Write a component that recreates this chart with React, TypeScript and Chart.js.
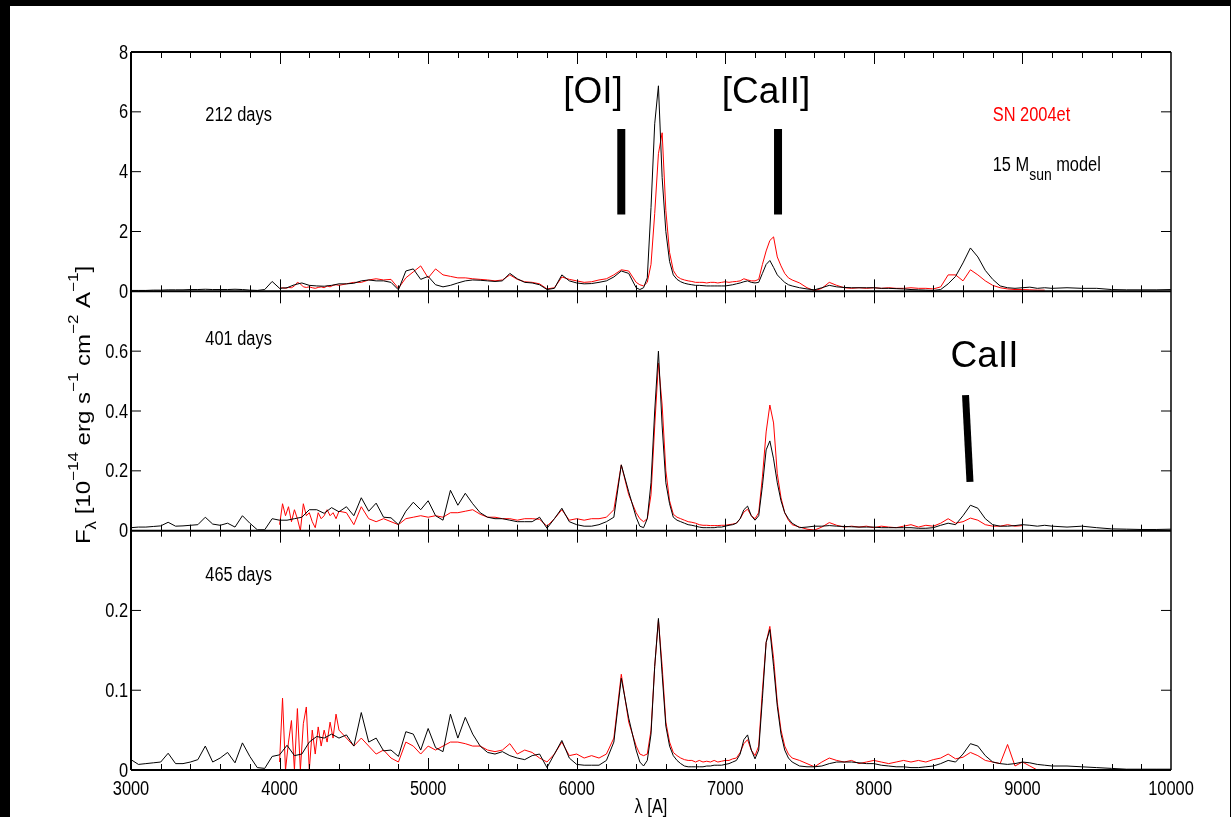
import React, { useEffect, useRef } from 'react';
import { Chart, registerables } from 'chart.js';
Chart.register(...registerables);

// ---------- wavelength grids (Angstrom) ----------
const WAVE_MODEL = [
  3000, 3050, 3100, 3150, 3200, 3250, 3300, 3350, 3400, 3450,
  3500, 3550, 3600, 3650, 3700, 3750, 3800, 3850, 3900, 3950,
  4000, 4050, 4100, 4150, 4200, 4250, 4300, 4350, 4400, 4450,
  4500, 4550, 4600, 4650, 4700, 4750, 4800, 4850, 4900, 4950,
  5000, 5050, 5100, 5150, 5200, 5250, 5300, 5350, 5400, 5450,
  5500, 5550, 5600, 5650, 5700, 5750, 5800, 5850, 5900, 5950,
  6000, 6050, 6100, 6150, 6200, 6250, 6300, 6350, 6400,
  6425, 6450, 6475, 6500, 6525, 6550, 6575, 6600, 6625, 6650,
  6675, 6700, 6725, 6750, 6775, 6800, 6825, 6850, 6875, 6900,
  6925, 6950, 6975, 7000, 7025, 7050, 7075, 7100, 7125, 7150,
  7175, 7200, 7225, 7250, 7275, 7300, 7325, 7350, 7375, 7400,
  7425, 7450,
  7500, 7550, 7600, 7650, 7700, 7750, 7800, 7850, 7900, 7950,
  8000, 8050, 8100, 8150, 8200, 8250, 8300, 8350, 8400, 8450,
  8500, 8550, 8600, 8650, 8700, 8750, 8800, 8850, 8900, 8950,
  9000, 9050, 9100, 9150, 9200,
  9300, 9400, 9500, 9600, 9700, 9800, 9900, 10000,
];

const WAVE_OBS = [
  4000, 4020, 4040, 4060, 4080, 4100, 4120, 4140, 4160, 4180,
  4200, 4220, 4240, 4260, 4280, 4300, 4320, 4340, 4360, 4380, 4400,
  4450, 4500, 4550, 4600, 4650, 4700, 4750, 4800, 4850, 4900,
  4950, 5000, 5050, 5100, 5150, 5200, 5250, 5300, 5350, 5400,
  5450, 5500, 5550, 5600, 5650, 5700, 5750, 5800, 5850, 5900,
  5950, 6000, 6050, 6100, 6150, 6200, 6250, 6300, 6350, 6400,
  6425, 6450, 6475, 6500, 6525, 6550, 6575, 6600, 6625, 6650,
  6675, 6700, 6725, 6750, 6775, 6800, 6825, 6850, 6875, 6900,
  6925, 6950, 6975, 7000, 7025, 7050, 7075, 7100, 7125, 7150,
  7175, 7200, 7225, 7250, 7275, 7300, 7325, 7350, 7375, 7400,
  7425, 7450,
  7500, 7550, 7600, 7650, 7700, 7750, 7800, 7850, 7900, 7950,
  8000, 8050, 8100, 8150, 8200, 8250, 8300, 8350, 8400, 8450,
  8500, 8550, 8600, 8650, 8700, 8750, 8800, 8850, 8900, 8950,
  9000, 9050, 9100, 9150, 9200,
];

// ---------- 212 days ----------
const MODEL_212 = [
  0.03, 0.03, 0.03, 0.04, 0.04, 0.05, 0.05, 0.05, 0.06, 0.06,
  0.07, 0.06, 0.06, 0.06, 0.07, 0.06, 0.04, 0.03, 0.06, 0.33,
  0.1, 0.12, 0.22, 0.28, 0.2, 0.18, 0.17, 0.2, 0.25, 0.25,
  0.27, 0.35, 0.38, 0.35, 0.35, 0.3, 0.05, 0.68, 0.75, 0.4,
  0.5, 0.22, 0.15, 0.2, 0.28, 0.35, 0.38, 0.37, 0.35, 0.33,
  0.35, 0.6, 0.42, 0.3, 0.28, 0.22, 0.06, 0.1, 0.55, 0.35,
  0.28, 0.25, 0.26, 0.3, 0.35, 0.48, 0.68, 0.6, 0.12,
  0.06, 0.12, 0.45, 2.8, 5.6, 6.87, 3.8, 2.0, 1.0, 0.55,
  0.4, 0.32, 0.27, 0.24, 0.22, 0.2, 0.2, 0.19, 0.18, 0.18,
  0.18, 0.18, 0.18, 0.18, 0.2, 0.22, 0.25, 0.28, 0.32, 0.35,
  0.3, 0.28, 0.3, 0.6, 0.9, 1.03, 0.8, 0.55, 0.42, 0.3,
  0.22, 0.18,
  0.12, 0.08, 0.05, 0.12, 0.2, 0.15, 0.13, 0.12, 0.12, 0.12,
  0.12, 0.1, 0.1, 0.09, 0.08, 0.06, 0.05, 0.04, 0.03, 0.06,
  0.25, 0.5, 0.95, 1.45, 1.15, 0.7, 0.4, 0.18, 0.12, 0.1,
  0.12, 0.14, 0.1, 0.12, 0.1,
  0.12, 0.1, 0.1, 0.06, 0.05, 0.05, 0.05, 0.06,
];

const OBS_212 = [
  0.1, 0.12, 0.1, 0.13, 0.12, 0.18, 0.3, 0.25, 0.15, 0.13,
  0.15, 0.12, 0.1, 0.13, 0.15, 0.12, 0.18, 0.15, 0.2, 0.22, 0.2,
  0.25, 0.3, 0.3, 0.38, 0.42, 0.38, 0.4, 0.1, 0.45, 0.65,
  0.85, 0.45, 0.75, 0.55, 0.5, 0.45, 0.45, 0.42, 0.4, 0.38,
  0.35, 0.38, 0.55, 0.4, 0.32, 0.3, 0.25, 0.08, 0.12, 0.48,
  0.4, 0.35, 0.3, 0.32, 0.38, 0.42, 0.55, 0.72, 0.68, 0.3,
  0.22, 0.18, 0.3, 0.9, 2.6, 4.6, 5.3, 2.7, 1.3, 0.7,
  0.5, 0.42, 0.38, 0.35, 0.33, 0.3, 0.3, 0.3, 0.28, 0.3,
  0.3, 0.28, 0.3, 0.32, 0.3, 0.32, 0.33, 0.35, 0.42, 0.38,
  0.35, 0.35, 0.4, 0.9, 1.35, 1.7, 1.82, 1.15, 0.85, 0.6,
  0.45, 0.38,
  0.28, 0.12, 0.02, 0.1, 0.3, 0.2, 0.12, 0.1, 0.12, 0.1,
  0.12, 0.1, 0.12, 0.1, 0.1, 0.12, 0.1, 0.1, 0.08, 0.15,
  0.55, 0.55, 0.35, 0.72, 0.55, 0.35, 0.2, 0.12, 0.08, 0.06,
  0.06, 0.05, 0.04, 0.04, null,
];

// ---------- 401 days ----------
const MODEL_401 = [
  0.01, 0.012, 0.012, 0.014, 0.016, 0.028, 0.015, 0.016, 0.018, 0.02,
  0.045, 0.022, 0.018, 0.025, 0.012, 0.05, 0.025, 0.003, 0.003, 0.04,
  0.035, 0.035, 0.04, 0.045, 0.07, 0.07, 0.058, 0.077, 0.063, 0.08,
  0.05, 0.11, 0.065, 0.092, 0.045, 0.043, 0.02, 0.065, 0.095, 0.07,
  0.1, 0.05, 0.035, 0.135, 0.085, 0.125, 0.09, 0.06, 0.045, 0.04,
  0.04, 0.035, 0.03, 0.03, 0.03, 0.045, 0.008, 0.04, 0.075, 0.03,
  0.02, 0.015, 0.015, 0.02, 0.03, 0.045, 0.22, 0.13, 0.045,
  0.015, 0.01, 0.04, 0.16, 0.4, 0.6, 0.35, 0.16, 0.09, 0.045,
  0.035, 0.03, 0.025, 0.02, 0.018, 0.015, 0.012, 0.01, 0.01, 0.01,
  0.01, 0.012, 0.012, 0.015, 0.018, 0.02, 0.025, 0.04, 0.07, 0.082,
  0.05, 0.035, 0.05, 0.15, 0.27, 0.3, 0.24, 0.16, 0.1, 0.06,
  0.04, 0.025,
  0.01, 0.012, 0.015, 0.015, 0.017, 0.015, 0.014, 0.013, 0.012, 0.012,
  0.012, 0.01, 0.01, 0.01, 0.01, 0.01, 0.008, 0.008, 0.01, 0.018,
  0.025, 0.02, 0.05, 0.085, 0.075, 0.04, 0.02, 0.015, 0.015, 0.017,
  0.02, 0.018, 0.015, 0.018, 0.015,
  0.012, 0.015, 0.01, 0.006, 0.005, 0.004, 0.004, 0.005,
];

const OBS_401 = [
  0.02, 0.09, 0.05, 0.08, 0.03, 0.07, 0.04, 0.0, 0.09, 0.05,
  0.06, 0.03, 0.01, 0.06, 0.04, 0.05, 0.07, 0.05, 0.06, 0.04, 0.065,
  0.06, 0.02, 0.08, 0.04, 0.03, 0.04, 0.03, 0.02, 0.04, 0.045,
  0.05, 0.045, 0.05, 0.045, 0.06, 0.06, 0.065, 0.07, 0.055, 0.045,
  0.045, 0.04, 0.04, 0.035, 0.04, 0.04, 0.038, 0.015, 0.04, 0.07,
  0.035, 0.04, 0.035, 0.04, 0.04, 0.045, 0.07, 0.22, 0.12, 0.06,
  0.04, 0.03, 0.04, 0.12, 0.35, 0.56, 0.42, 0.2, 0.1, 0.055,
  0.045, 0.04, 0.035, 0.03, 0.028, 0.025, 0.02, 0.018, 0.018, 0.017,
  0.017, 0.017, 0.018, 0.018, 0.02, 0.022, 0.025, 0.04, 0.062, 0.072,
  0.05, 0.04, 0.06, 0.18, 0.33, 0.42, 0.36, 0.19, 0.11, 0.06,
  0.035, 0.02,
  0.012, 0.005, 0.002, 0.012, 0.027, 0.018, 0.012, 0.015, 0.012, 0.015,
  0.01, 0.015, 0.012, 0.01, 0.015, 0.02, 0.012, 0.018, 0.015, 0.025,
  0.04, 0.025, 0.03, 0.042, 0.035, 0.02, 0.015, 0.015, 0.02, 0.015,
  0.017, null, null, null, null,
];

// ---------- 465 days ----------
const MODEL_465 = [
  0.013, 0.007, 0.008, 0.009, 0.01, 0.021, 0.008, 0.008, 0.01, 0.013,
  0.03, 0.01, 0.015, 0.022, 0.009, 0.034, 0.017, 0.003, 0.002, 0.017,
  0.019, 0.031, 0.018, 0.02, 0.035, 0.042, 0.04, 0.045, 0.04, 0.044,
  0.03, 0.072, 0.035, 0.04, 0.024, 0.025, 0.017, 0.048, 0.045, 0.025,
  0.052, 0.028, 0.023, 0.07, 0.04, 0.066, 0.045, 0.03, 0.022, 0.02,
  0.023, 0.018, 0.015, 0.013, 0.018, 0.02, 0.003, 0.02, 0.037, 0.015,
  0.007, 0.006, 0.006, 0.006, 0.012, 0.035, 0.115, 0.065, 0.025,
  0.01, 0.005, 0.012, 0.045, 0.13, 0.19, 0.12, 0.055, 0.03, 0.018,
  0.012, 0.008, 0.005, 0.004, 0.004, 0.004, 0.004, 0.004, 0.005, 0.005,
  0.006, 0.006, 0.006, 0.007, 0.008, 0.01, 0.012, 0.02, 0.038, 0.044,
  0.025, 0.014, 0.025, 0.09, 0.16, 0.176, 0.13, 0.08, 0.045, 0.025,
  0.015, 0.01,
  0.005, 0.004, 0.004, 0.005, 0.008, 0.01, 0.01, 0.01, 0.009, 0.008,
  0.008, 0.006, 0.005, 0.004, 0.004, 0.003, 0.003, 0.004, 0.005, 0.008,
  0.012, 0.01, 0.02, 0.033, 0.03, 0.018, 0.01, 0.008, 0.007, 0.008,
  0.01, 0.009, 0.007, 0.006, 0.005,
  0.005, 0.004, 0.003, 0.002, 0.001, 0.001, 0.001, 0.001,
];

const OBS_465 = [
  0.01, 0.09, 0.0, 0.035, 0.062, 0.0, 0.077, 0.0, 0.058, 0.079,
  0.0, 0.05, 0.02, 0.054, 0.03, 0.05, 0.035, 0.06, 0.04, 0.07, 0.05,
  0.04, 0.03, 0.04, 0.03, 0.02, 0.025, 0.015, 0.01, 0.035, 0.03,
  0.02, 0.03, 0.025, 0.03, 0.035, 0.035, 0.033, 0.03, 0.03, 0.025,
  0.023, 0.025, 0.033, 0.02, 0.025, 0.022, 0.015, 0.01, 0.02, 0.035,
  0.018, 0.02, 0.015, 0.018, 0.015, 0.02, 0.04, 0.12, 0.06, 0.03,
  0.02, 0.018, 0.02, 0.05, 0.13, 0.188, 0.13, 0.06, 0.035, 0.022,
  0.018, 0.015, 0.013, 0.012, 0.012, 0.01, 0.012, 0.01, 0.011, 0.01,
  0.012, 0.01, 0.011, 0.012, 0.012, 0.014, 0.015, 0.022, 0.033, 0.038,
  0.025, 0.018, 0.03, 0.1, 0.16, 0.18, 0.14, 0.085, 0.05, 0.03,
  0.02, 0.015,
  0.012, 0.008, 0.004, 0.01, 0.015, 0.012, 0.01, 0.012, 0.008, 0.01,
  0.012, 0.01, 0.008, 0.01, 0.012, 0.01, 0.012, 0.01, 0.013, 0.015,
  0.02, 0.014, 0.016, 0.022, 0.018, 0.012, 0.01, 0.008, 0.032, 0.005,
  0.01, 0.005, 0.0, null, null,
];

// ---------- axes ----------
const X_MIN = 3000;
const X_MAX = 10000;
const X_MAJOR_STEP = 1000;
const X_MINOR_STEP = 200;
const X_TICKS = [3000, 4000, 5000, 6000, 7000, 8000, 9000, 10000];
const Y1_RANGE = [0, 8];
const Y2_RANGE = [0, 0.8];
const Y3_RANGE = [0, 0.3];
const Y1_TICKS = [0, 2, 4, 6, 8];
const Y2_TICKS = [0, 0.2, 0.4, 0.6];
const Y3_TICKS = [0, 0.1, 0.2];

const PANEL_LABELS = ['212 days', '401 days', '465 days'];
const PANEL_LABEL_POS = [
  [3500, 5.7],
  [3500, 0.62],
  [3500, 0.2375],
];

const REGULAR = "'Liberation Sans', Arial, Helvetica, sans-serif";
const SQUEEZE = 0.82; // the original figure's lettering is horizontally condensed

const toXY = (xs: number[], ys: (number | null)[]) => xs.map((x, i) => ({ x, y: ys[i] }));
const fmt = (v: number) => String(Number(v.toFixed(2)));

type Part = { t: string; s: number; dy: number };

// draws a run of text pieces, horizontally condensed; align: 'left' | 'center' | 'right'
function narrowRun(ctx: any, parts: Part[], x: number, y: number, align: string, baseline = 'alphabetic') {
  let total = 0;
  for (const p of parts) {
    ctx.font = `${p.s}px ${REGULAR}`;
    total += ctx.measureText(p.t).width;
  }
  let start = 0;
  if (align === 'center') start = -total / 2;
  else if (align === 'right') start = -total;
  ctx.save();
  ctx.translate(x, y);
  ctx.scale(SQUEEZE, 1);
  ctx.textAlign = 'left';
  ctx.textBaseline = baseline;
  let tx = start;
  for (const p of parts) {
    ctx.font = `${p.s}px ${REGULAR}`;
    ctx.fillText(p.t, tx, p.dy);
    tx += ctx.measureText(p.t).width;
  }
  ctx.restore();
}

function yScale(range: number[], ticks: number[]) {
  return {
    type: 'linear',
    position: 'left',
    stack: 'panels',
    stackWeight: 1,
    offset: false,
    min: range[0],
    max: range[1],
    grid: { display: false, drawTicks: false },
    border: { display: false },
    afterBuildTicks: (s: any) => {
      s.ticks = ticks.map((v) => ({ value: v }));
    },
    ticks: { display: false },
    afterFit: (s: any) => {
      s.width = 131;
    },
  };
}

const framePlugin = {
  id: 'framePlugin',
  afterDraw(chart: any) {
    const ctx = chart.ctx;
    const { left, right, top, bottom } = chart.chartArea;
    const xs = chart.scales.x;
    const panels = [
      { s: chart.scales.y1, t: Y1_TICKS },
      { s: chart.scales.y2, t: Y2_TICKS },
      { s: chart.scales.y3, t: Y3_TICKS },
    ];
    ctx.save();
    ctx.strokeStyle = '#000';
    ctx.fillStyle = '#000';
    // x ticks on every panel edge, pointing inward
    ctx.lineWidth = 1;
    for (const p of panels) {
      for (let v = X_MIN + X_MINOR_STEP; v < X_MAX; v += X_MINOR_STEP) {
        const px = Math.round(xs.getPixelForValue(v)) + 0.5;
        const len = v % X_MAJOR_STEP === 0 ? 12 : 6;
        ctx.beginPath();
        ctx.moveTo(px, p.s.bottom);
        ctx.lineTo(px, p.s.bottom - len);
        ctx.moveTo(px, p.s.top);
        ctx.lineTo(px, p.s.top + len);
        ctx.stroke();
      }
      // y ticks, left and right, pointing inward, plus labels
      for (const v of p.t) {
        const py = p.s.getPixelForValue(v);
        narrowRun(ctx, [{ t: fmt(v), s: 20, dy: 0 }], left - 3, py + 1, 'right', 'middle');
        if (Math.abs(py - p.s.top) < 2 || Math.abs(py - p.s.bottom) < 2) continue;
        ctx.beginPath();
        ctx.moveTo(left, py);
        ctx.lineTo(left + 10, py);
        ctx.moveTo(right, py);
        ctx.lineTo(right - 10, py);
        ctx.stroke();
      }
    }
    // x tick labels
    for (const v of X_TICKS) {
      narrowRun(ctx, [{ t: String(v), s: 20, dy: 0 }], xs.getPixelForValue(v), 795, 'center');
    }
    // frame and panel dividers
    ctx.lineWidth = 2;
    ctx.beginPath();
    ctx.moveTo(left, top);
    ctx.lineTo(right, top);
    ctx.moveTo(left, top);
    ctx.lineTo(left, bottom);
    ctx.moveTo(left, bottom);
    ctx.lineTo(right, bottom);
    for (const p of panels.slice(1)) {
      ctx.moveTo(left, p.s.top);
      ctx.lineTo(right, p.s.top);
    }
    ctx.stroke();
    ctx.lineWidth = 1.5;
    ctx.beginPath();
    ctx.moveTo(right, top);
    ctx.lineTo(right, bottom);
    ctx.stroke();

    // panel labels
    panels.forEach((p, i) => {
      narrowRun(
        ctx,
        [{ t: PANEL_LABELS[i], s: 20, dy: 0 }],
        xs.getPixelForValue(PANEL_LABEL_POS[i][0]),
        p.s.getPixelForValue(PANEL_LABEL_POS[i][1]),
        'left'
      );
    });

    // legend texts
    const y1 = chart.scales.y1;
    const y2 = chart.scales.y2;
    const lx = xs.getPixelForValue(8800);
    ctx.fillStyle = '#ff0000';
    narrowRun(ctx, [{ t: 'SN 2004et', s: 20, dy: 0 }], lx, y1.getPixelForValue(5.7), 'left');
    ctx.fillStyle = '#000';
    narrowRun(
      ctx,
      [
        { t: '15 M', s: 20, dy: 0 },
        { t: 'sun', s: 17, dy: 9 },
        { t: ' model', s: 20, dy: 0 },
      ],
      lx,
      y1.getPixelForValue(4.03),
      'left'
    );

    // line identifications
    ctx.font = `37px ${REGULAR}`;
    ctx.textAlign = 'center';
    ctx.textBaseline = 'alphabetic';
    ctx.fillText('[OI]', xs.getPixelForValue(6110), y1.getPixelForValue(6.3));
    ctx.fillText('[CaII]', xs.getPixelForValue(7274), y1.getPixelForValue(6.3));
    ctx.fillText('CaII', xs.getPixelForValue(8745), y2.getPixelForValue(0.547));
    ctx.lineCap = 'butt';
    ctx.lineWidth = 8;
    ctx.beginPath();
    ctx.moveTo(xs.getPixelForValue(6300), y1.getPixelForValue(5.43));
    ctx.lineTo(xs.getPixelForValue(6300), y1.getPixelForValue(2.57));
    ctx.moveTo(xs.getPixelForValue(7355), y1.getPixelForValue(5.43));
    ctx.lineTo(xs.getPixelForValue(7355), y1.getPixelForValue(2.57));
    ctx.stroke();
    ctx.lineWidth = 7;
    ctx.beginPath();
    ctx.moveTo(xs.getPixelForValue(8617), y2.getPixelForValue(0.453));
    ctx.lineTo(xs.getPixelForValue(8647), y2.getPixelForValue(0.163));
    ctx.stroke();

    // x axis title
    narrowRun(ctx, [{ t: 'λ [A]', s: 20, dy: 0 }], xs.getPixelForValue(6500), 813, 'center');

    // y axis title (rotated, with super/subscripts)
    const parts: Part[] = [
      { t: 'F', s: 24, dy: 0 },
      { t: 'λ', s: 17, dy: 8 },
      { t: ' [10', s: 24, dy: 0 },
      { t: '−14', s: 17, dy: -14 },
      { t: ' erg s', s: 24, dy: 0 },
      { t: '−1', s: 17, dy: -14 },
      { t: ' cm', s: 24, dy: 0 },
      { t: '−2', s: 17, dy: -14 },
      { t: ' A', s: 24, dy: 0 },
      { t: '−1', s: 17, dy: -14 },
      { t: ']', s: 24, dy: 0 },
    ];
    let total = 0;
    for (const p of parts) {
      ctx.font = `${p.s}px ${REGULAR}`;
      total += ctx.measureText(p.t).width;
    }
    ctx.save();
    ctx.translate(89.5, 405);
    ctx.rotate(-Math.PI / 2);
    ctx.scale(1, SQUEEZE);
    ctx.textAlign = 'left';
    ctx.textBaseline = 'alphabetic';
    let tx = -total / 2;
    for (const p of parts) {
      ctx.font = `${p.s}px ${REGULAR}`;
      ctx.fillText(p.t, tx, p.dy);
      tx += ctx.measureText(p.t).width;
    }
    ctx.restore();
    ctx.restore();
  },
};

function buildConfig(order: string[]) {
  const yDefs: any = {
    y1: yScale(Y1_RANGE, Y1_TICKS),
    y2: yScale(Y2_RANGE, Y2_TICKS),
    y3: yScale(Y3_RANGE, Y3_TICKS),
  };
  const scales: any = {
    x: {
      type: 'linear',
      position: 'bottom',
      min: X_MIN,
      max: X_MAX,
      grid: { display: false, drawTicks: false },
      border: { display: false },
      ticks: { display: false, stepSize: X_MAJOR_STEP },
      afterFit: (s: any) => {
        s.height = 47;
      },
    },
  };
  for (const k of order) scales[k] = yDefs[k];
  const line = (data: any[], color: string, yAxisID: string) => ({
    data,
    borderColor: color,
    backgroundColor: color,
    borderWidth: 1,
    pointRadius: 0,
    tension: 0,
    fill: false,
    spanGaps: false,
    yAxisID,
  });
  return {
    type: 'line',
    data: {
      datasets: [
        line(toXY(WAVE_MODEL, MODEL_212), '#000000', 'y1'),
        line(toXY(WAVE_MODEL, MODEL_401), '#000000', 'y2'),
        line(toXY(WAVE_MODEL, MODEL_465), '#000000', 'y3'),
        line(toXY(WAVE_OBS, OBS_212), '#ff0000', 'y1'),
        line(toXY(WAVE_OBS, OBS_401), '#ff0000', 'y2'),
        line(toXY(WAVE_OBS, OBS_465), '#ff0000', 'y3'),
      ],
    },
    options: {
      animation: false,
      responsive: false,
      maintainAspectRatio: false,
      devicePixelRatio: 1,
      layout: { padding: { left: 0, right: 60, top: 52, bottom: 0 } },
      plugins: { legend: { display: false }, tooltip: { enabled: false } },
      scales,
    },
    plugins: [framePlugin],
  } as any;
}

export default function App() {
  const ref = useRef<HTMLCanvasElement | null>(null);
  useEffect(() => {
    const canvas = ref.current;
    if (!canvas) return;
    let chart = new Chart(canvas, buildConfig(['y1', 'y2', 'y3']));
    if ((chart.scales as any).y1.top > (chart.scales as any).y3.top) {
      chart.destroy();
      chart = new Chart(canvas, buildConfig(['y3', 'y2', 'y1']));
    }
    return () => chart.destroy();
  }, []);
  return (
    <div style={{ position: 'fixed', left: 0, top: 0, width: 1231, height: 817, background: '#000', overflow: 'hidden' }}>
      <div style={{ position: 'absolute', left: 10, top: 6, width: 1220, height: 811, background: '#fff' }} />
      <canvas
        ref={ref}
        width={1231}
        height={817}
        style={{ position: 'absolute', left: 0, top: 0, width: 1231, height: 817 }}
      />
    </div>
  );
}
